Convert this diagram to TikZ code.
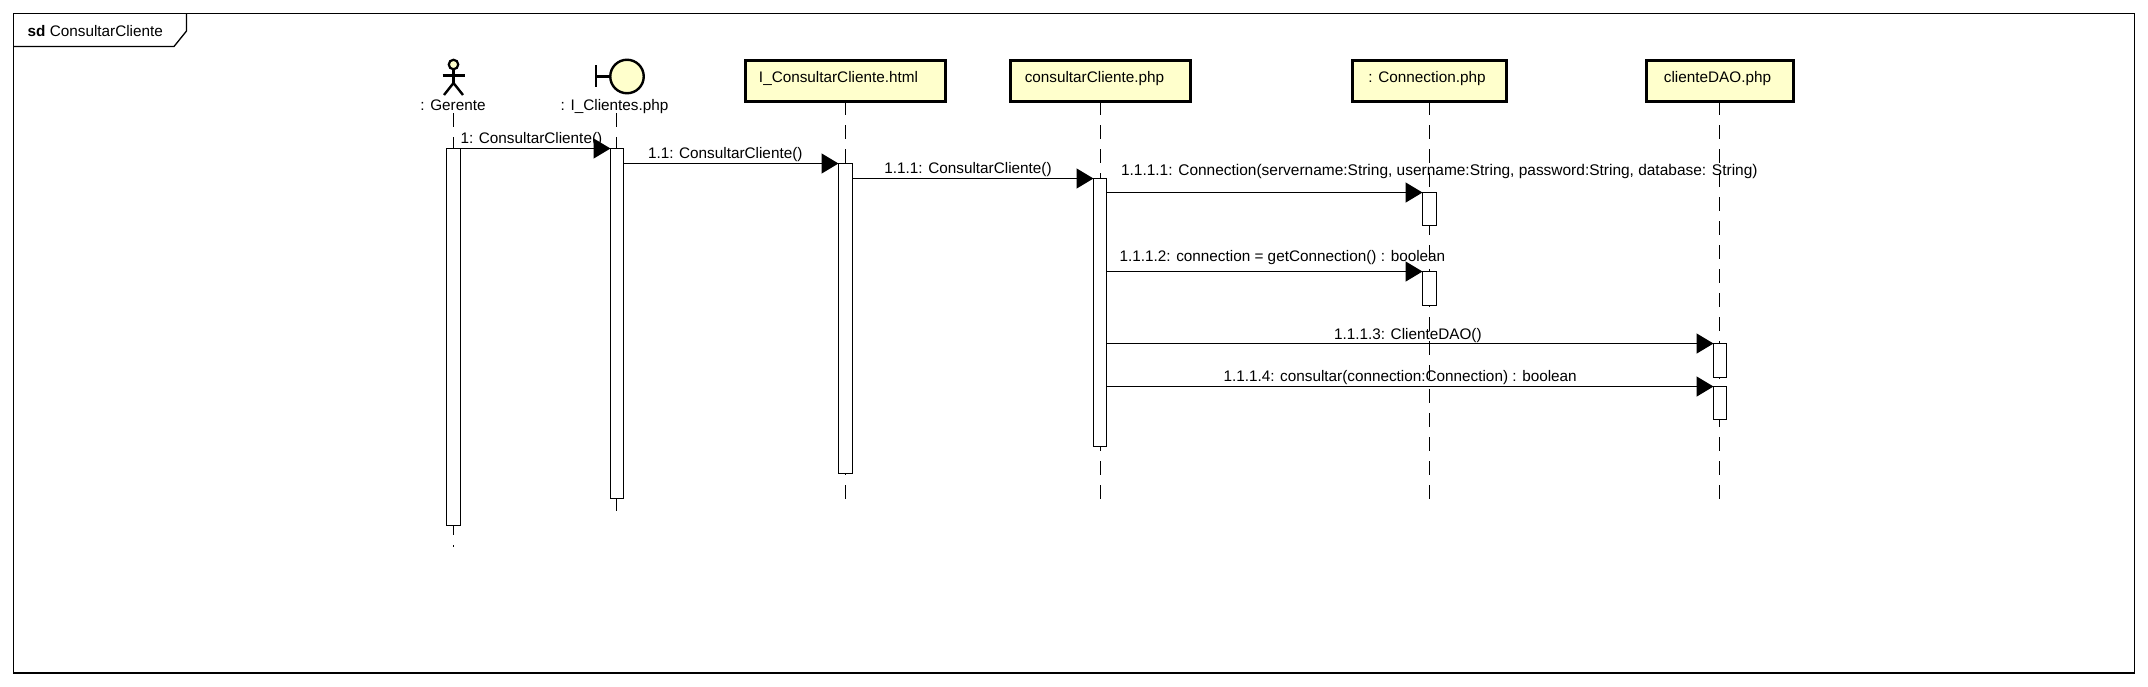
\documentclass[tikz,border=0pt]{standalone}
\usepackage{fontspec}
\setmainfont{Liberation Sans}
\usetikzlibrary{arrows.meta}
\definecolor{umlfill}{HTML}{FFFFCC}
\tikzset{
  x=1pt,y=-1pt,
  every node/.style={inner sep=0pt,outer sep=0pt,font=\fontsize{15.3}{18}\selectfont},
  objbox/.style={draw=black,fill=umlfill,line width=3pt,minimum height=41pt,text height=11pt,text depth=6.6pt,anchor=center},
  lifeline/.style={draw=black,line width=1.3pt,dash pattern=on 14pt off 10pt},
  activation/.style={draw=black,fill=white,line width=1.2pt,anchor=north,minimum width=14pt},
  message/.style={draw=black,line width=1.5pt,-{Triangle[length=17pt,width=20pt,fill=black]}},
  msglabel/.style={anchor=base west},
  frameline/.style={draw=black,line width=1.3pt},
  iconline/.style={draw=black,line width=2.4pt},
}
\begin{document}
\begin{tikzpicture}
\useasboundingbox (0,0) rectangle (2148,686);
\fill[white] (0,0) rectangle (2148,686);
% frame
\node[frameline,anchor=north west,minimum width=2121pt,minimum height=659.5pt] (frame) at (13.5,13.5) {};
\draw[frameline] (186.5,13.5) -- (186.5,31) -- (174,46.5) -- (13.5,46.5);
\node[anchor=base west] (title) at (27.7,36.7) {\textbf{sd} ConsultarCliente};

% heads
\node[draw=black,fill=umlfill,circle,line width=2.2pt,minimum size=9.5pt] (gerenteHead) at (453.5,64.5) {};
\coordinate (gerenteNeck) at (453.5,83);
\coordinate (armL) at (442.5,75.5);
\coordinate (armR) at (464.5,75.5);
\coordinate (legL) at (444,95);
\coordinate (legR) at (463,95);
\draw[iconline] (gerenteHead) -- (gerenteNeck);
\draw[iconline] (armL) -- (armR);
\draw[iconline] (legL) -- (gerenteNeck) -- (legR);
\node[anchor=base] (gerenteLabel) at (453,110.7) {: Gerente};

\node[draw=black,fill=umlfill,circle,line width=2.4pt,minimum size=33.5pt] (boundary) at (627,76.5) {};
\coordinate (barTop) at (596,65);
\coordinate (barBot) at (596,87);
\coordinate (barMid) at (596,76.5);
\draw[iconline] (barTop) -- (barBot);
\draw[iconline] (barMid) -- (boundary.west);
\node[anchor=base] (boundaryLabel) at (614.5,110.7) {: I\_Clientes.php};

\node[objbox,minimum width=200pt] (html) at (845.5,80.5) {\hspace*{-14pt}I\_ConsultarCliente.html};
\node[objbox,minimum width=180pt] (php) at (1100.5,80.5) {\hspace*{-12pt}consultarCliente.php};
\node[objbox,minimum width=154pt] (conn) at (1429.5,80.5) {\hspace*{-5pt}: Connection.php};
\node[objbox,minimum width=147pt] (dao) at (1720,80.5) {\hspace*{-5pt}clienteDAO.php};

% lifeline ends
\coordinate (gerenteStart) at (453.5,113);
\coordinate (gerenteEnd) at (453.5,546.5);
\coordinate (boundaryStart) at (616.5,113);
\coordinate (boundaryEnd) at (616.5,513);
\coordinate (htmlEnd) at (845.5,500.5);
\coordinate (phpEnd) at (1100.5,500.5);
\coordinate (connEnd) at (1429.5,500.5);
\coordinate (daoEnd) at (1719.5,500.5);
\path[lifeline] (gerenteStart) -- (gerenteEnd);
\path[lifeline] (boundaryStart) -- (boundaryEnd);
\path[lifeline] (html.south) -- (htmlEnd);
\path[lifeline] (php.south) -- (phpEnd);
\path[lifeline] (conn.south) -- (connEnd);
\path[lifeline] (dao.south -| daoEnd) -- (daoEnd);

% activations
\node[activation,minimum height=377pt] (aGerente) at (453.5,148.5) {};
\node[activation,minimum height=350pt,minimum width=13pt] (aBoundary) at (617,148.5) {};
\node[activation,minimum height=310pt] (aHtml) at (845.5,163.5) {};
\node[activation,minimum height=268pt,minimum width=13pt] (aPhp) at (1100,178.5) {};
\node[activation,minimum height=33pt] (aConn1) at (1429.5,192.5) {};
\node[activation,minimum height=34pt] (aConn2) at (1429.5,271.5) {};
\node[activation,minimum height=34pt,minimum width=13pt] (aDao1) at (1720,343.5) {};
\node[activation,minimum height=33pt,minimum width=13pt] (aDao2) at (1720,386.5) {};

% messages
\draw[message] (aGerente.east |- aBoundary.north west) -- (aBoundary.north west);
\draw[message] (aBoundary.east |- aHtml.north west) -- (aHtml.north west);
\draw[message] (aHtml.east |- aPhp.north west) -- (aPhp.north west);
\draw[message] (aPhp.east |- aConn1.north west) -- (aConn1.north west);
\draw[message] (aPhp.east |- aConn2.north west) -- (aConn2.north west);
\draw[message] (aPhp.east |- aDao1.north west) -- (aDao1.north west);
\draw[message] (aPhp.east |- aDao2.north west) -- (aDao2.north west);

% message labels
\node[msglabel] (m1) at (460.5,143) {1: ConsultarCliente()};
\node[msglabel] (m2) at (648,158) {1.1: ConsultarCliente()};
\node[msglabel] (m3) at (884.4,173) {1.1.1: ConsultarCliente()};
\node[msglabel,font=\fontsize{15.47}{18}\selectfont] (m4) at (1121,175) {1.1.1.1: Connection(servername:String, username:String, password:String, database: String)};
\node[msglabel] (m5) at (1119.6,261) {1.1.1.2: connection = getConnection() : boolean};
\node[msglabel] (m6) at (1334,339) {1.1.1.3: ClienteDAO()};
\node[msglabel] (m7) at (1223.5,381) {1.1.1.4: consultar(connection:Connection) : boolean};
\end{tikzpicture}
\end{document}
